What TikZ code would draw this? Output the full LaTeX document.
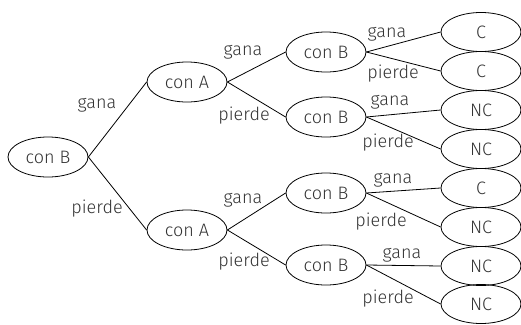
\documentclass[tikz,border=0pt]{standalone}
\usepackage{fontspec}
\setmainfont{Fira Sans Light}
\usetikzlibrary{shapes.geometric}
\begin{document}
\begin{tikzpicture}[x=1pt,y=-1pt,
  every node/.style={font=\fontsize{18}{18}\selectfont, text=black!80},
  ov/.style={draw=black, line width=0.8pt, ellipse, inner sep=0pt, minimum width=80pt, minimum height=40pt},
  leaf/.style={ov, minimum height=39pt},
  lbl/.style={inner sep=0pt},
  br/.style={draw=black, line width=0.8pt}]
\useasboundingbox (0,0) rectangle (521,324);
\node[ov] (r) at (48,157) {con B};
\node[ov] (a1) at (187,82) {con A};
\node[ov] (a2) at (187,230) {con A};
\node[ov] (b1) at (326,52) {con B};
\node[ov] (b2) at (326,117) {con B};
\node[ov] (b3) at (326,193) {con B};
\node[ov] (b4) at (326,265) {con B};
\node[leaf] (l1) at (481,32) {C};
\node[leaf] (l2) at (481,71) {C};
\node[leaf] (l3) at (481,110) {NC};
\node[leaf] (l4) at (481,149) {NC};
\node[leaf] (l5) at (481,188) {C};
\node[leaf] (l6) at (481,227) {NC};
\node[leaf] (l7) at (481,266) {NC};
\node[leaf] (l8) at (481,304) {NC};
\draw[br] (r.east) -- (a1.west);
\draw[br] (r.east) -- (a2.west);
\draw[br] (a1.east) -- (b1.west);
\draw[br] (a1.east) -- (b2.west);
\draw[br] (a2.east) -- (b3.west);
\draw[br] (a2.east) -- (b4.west);
\draw[br] (b1.east) -- (l1.west);
\draw[br] (b1.east) -- (l2.west);
\draw[br] (b2.east) -- (l3.west);
\draw[br] (b2.east) -- (l4.west);
\draw[br] (b3.east) -- (l5.west);
\draw[br] (b3.east) -- (l6.west);
\draw[br] (b4.east) -- (l7.west);
\draw[br] (b4.east) -- (l8.west);
\node[lbl] (t1) at (97,105) {gana};
\node[lbl] (t2) at (97,209) {pierde};
\node[lbl] (t3) at (243,52) {gana};
\node[lbl] (t4) at (244,116) {pierde};
\node[lbl] (t5) at (243,200) {gana};
\node[lbl] (t6) at (244,262) {pierde};
\node[lbl] (t7) at (387,34) {gana};
\node[lbl] (t8) at (393,74) {pierde};
\node[lbl] (t9) at (390,102) {gana};
\node[lbl] (t10) at (388,143) {pierde};
\node[lbl] (t11) at (393,180) {gana};
\node[lbl] (t12) at (381,222) {pierde};
\node[lbl] (t13) at (402,255) {gana};
\node[lbl] (t14) at (388,299) {pierde};
\end{tikzpicture}
\end{document}
